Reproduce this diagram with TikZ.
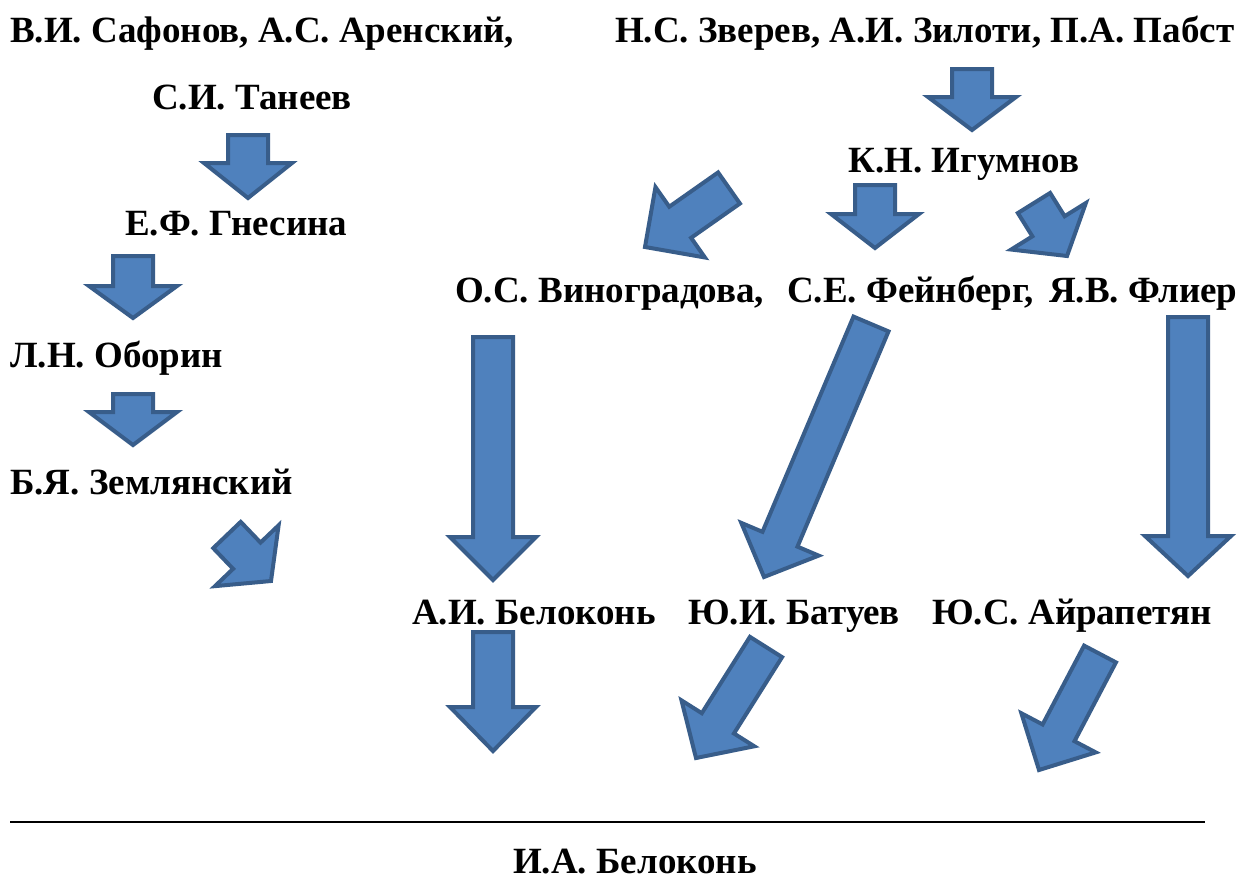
\documentclass[tikz,border=0pt]{standalone}
\usepackage{fontspec}
\setmainfont{Liberation Serif}
\usetikzlibrary{calc}
\definecolor{afill}{HTML}{4F81BD}
\definecolor{aline}{HTML}{385D8A}
\tikzset{
  blockarrow/.style={fill=afill,draw=aline,line width=4pt,line join=miter},
  lbl/.style={inner sep=0pt,anchor=base west,font=\fontsize{37}{44}\selectfont\bfseries},
  clbl/.style={inner sep=0pt,anchor=base,font=\fontsize{37}{44}\selectfont\bfseries}
}
% #1 tail, #2 tip, #3 half shaft width, #4 half head width, #5 head length
\newcommand\blockarrow[5]{%
  \coordinate (ba-m) at ($(#2)!#5!(#1)$);
  \draw[blockarrow] ($(#1)!#3!90:(#2)$) -- ($(ba-m)!#3!90:(#2)$) -- ($(ba-m)!#4!90:(#2)$)
     -- (#2) -- ($(ba-m)!#4!-90:(#2)$) -- ($(ba-m)!#3!-90:(#2)$) -- ($(#1)!#3!-90:(#2)$) -- cycle;
}
\begin{document}
\begin{tikzpicture}[x=1pt,y=-1pt]
\useasboundingbox[fill=white] (0,0) rectangle (1244,881);
% texts
\node[lbl] (saf) at (10,42) {В.И. Сафонов, А.С. Аренский,};
\node[clbl] (tan) at (252,109) {С.И. Танеев};
\node[lbl] (zve) at (615,42) {Н.С. Зверев, А.И. Зилоти, П.А. Пабст};
\node[clbl] (igu) at (964,172) {К.Н. Игумнов};
\node[lbl] (gne) at (125,235) {Е.Ф. Гнесина};
\node[lbl] (vin) at (455,302) {О.С. Виноградова,};
\node[lbl] (fei) at (787,302) {С.Е. Фейнберг,};
\node[lbl] (fli) at (1049,302) {Я.В. Флиер};
\node[lbl] (obo) at (10,367) {Л.Н. Оборин};
\node[lbl] (zem) at (10,494) {Б.Я. Землянский};
\node[lbl] (bel) at (412,624) {А.И. Белоконь};
\node[lbl] (bat) at (688,624) {Ю.И. Батуев};
\node[lbl] (air) at (932,624) {Ю.С. Айрапетян};
\node[clbl] (iab) at (635,873) {И.А. Белоконь};
% rule
\coordinate (rl) at (10,822);
\coordinate (rr) at (1205,822);
\draw[line width=1.5pt] (rl) -- (rr);
% arrow end points
\coordinate (a1t) at (248,135); \coordinate (a1h) at (248,198);
\coordinate (a2t) at (133,256); \coordinate (a2h) at (133,318);
\coordinate (a3t) at (133,394); \coordinate (a3h) at (133,445);
\coordinate (a4t) at (227,535); \coordinate (a4h) at (271,581);
\coordinate (a5t) at (972,69);  \coordinate (a5h) at (972,130);
\coordinate (a6t) at (729,188); \coordinate (a6h) at (645,247);
\coordinate (a7t) at (875,185); \coordinate (a7h) at (875,248);
\coordinate (a8t) at (1034,203); \coordinate (a8h) at (1067,256);
\coordinate (a9t) at (493,337); \coordinate (a9h) at (493,580);
\coordinate (a10t) at (871,324); \coordinate (a10h) at (764,577);
\coordinate (a11t) at (1188,317); \coordinate (a11h) at (1188,576);
\coordinate (a12t) at (493,632); \coordinate (a12h) at (493,751);
\coordinate (a13t) at (766,647); \coordinate (a13h) at (696,758);
\coordinate (a14t) at (1100,654); \coordinate (a14h) at (1039,770);
% arrows
\blockarrow{a1t}{a1h}{20pt}{44pt}{35pt}
\blockarrow{a2t}{a2h}{20pt}{44pt}{32pt}
\blockarrow{a3t}{a3h}{20pt}{44pt}{33pt}
\blockarrow{a4t}{a4h}{19pt}{44pt}{35pt}
\blockarrow{a5t}{a5h}{20pt}{44pt}{33pt}
\blockarrow{a6t}{a6h}{19pt}{43pt}{43pt}
\blockarrow{a7t}{a7h}{20pt}{44pt}{34pt}
\blockarrow{a8t}{a8h}{19pt}{44pt}{35pt}
\blockarrow{a9t}{a9h}{20pt}{43pt}{43pt}
\blockarrow{a10t}{a10h}{19pt}{42pt}{41pt}
\blockarrow{a11t}{a11h}{20pt}{43pt}{40pt}
\blockarrow{a12t}{a12h}{20pt}{43pt}{44pt}
\blockarrow{a13t}{a13h}{19pt}{43pt}{41pt}
\blockarrow{a14t}{a14h}{18pt}{42pt}{42pt}
\end{tikzpicture}
\end{document}
